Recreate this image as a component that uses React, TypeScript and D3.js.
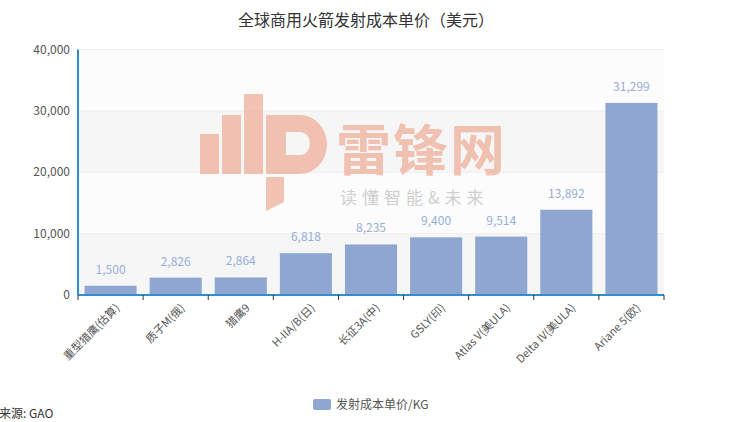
import React from "react";
import * as d3 from "d3";

const categories = [
  "重型猎鹰(估算)",
  "质子M(俄)",
  "猎鹰9",
  "H-IIA/B(日)",
  "长征3A(中)",
  "GSLY(印)",
  "Atlas V(美ULA)",
  "Delta IV(美ULA)",
  "Ariane 5(欧)",
];
const costPerKg = [1500, 2826, 2864, 6818, 8235, 9400, 9514, 13892, 31299];
const yTicks = [0, 10000, 20000, 30000, 40000];
const title = "全球商用火箭发射成本单价（美元）";
const seriesName = "发射成本单价/KG";
const source = "来源: GAO";

const W = 740;
const H = 422;
const plot = { left: 78, right: 664, top: 49.5, bottom: 295 };
const FONT = "'Microsoft YaHei', 'Noto Sans CJK SC', sans-serif";
const BAR = "#8fa6d0";
const LABEL = "#97aed7";
const AXIS = "#2f8fd0";

export default function App() {
  const x = d3
    .scaleBand<string>()
    .domain(categories)
    .range([plot.left, plot.right])
    .paddingInner(0.2)
    .paddingOuter(0.1);
  const xb = d3.scaleBand<string>().domain(categories).range([plot.left, plot.right]);
  const y = d3.scaleLinear().domain([0, 40000]).range([plot.bottom, plot.top]);
  const fmt = d3.format(",");

  const bands = yTicks.slice(0, -1).map((t, i) => ({
    y0: y(yTicks[i + 1]),
    y1: y(t),
    fill: i % 2 === 0 ? "#f6f6f7" : "#fcfcfc",
  }));

  return (
    <svg
      width={W}
      height={H}
      style={{ position: "absolute", left: 0, top: 0, background: "#fff" }}
      fontFamily={FONT}
    >
      <text x={366} y={26} textAnchor="middle" fontSize={16} fill="#333">
        {title}
      </text>

      {bands.map((b, i) => (
        <rect
          key={i}
          x={plot.left}
          y={b.y0}
          width={plot.right - plot.left}
          height={b.y1 - b.y0}
          fill={b.fill}
        />
      ))}
      {yTicks.map((t) => (
        <line
          key={t}
          x1={plot.left}
          x2={plot.right}
          y1={y(t)}
          y2={y(t)}
          stroke="#efefef"
          strokeWidth={1}
        />
      ))}

      {/* watermark */}
      <g opacity={0.7}>
        <g fill="#eeaa94">
          <rect x={200} y={134} width={19} height={40} />
          <rect x={222} y={115} width={19} height={59} />
          <rect x={244} y={94} width={19} height={80} />
          <path d="M266,115 H300 A27,29.5 0 0 1 300,174 H266 Z M286,132 V155 H300 A10,11.5 0 0 0 300,132 Z" fillRule="evenodd" />
          <path d="M266,177 H284 V202 L266,211 Z" />
        </g>
        <text x={336} y={170} fontSize={55} fontWeight="bold" fill="#eeaa94" letterSpacing={2}>
          雷锋网
        </text>
        <text x={340} y={204} fontSize={17} fill="#bdbdbd" letterSpacing={5}>
          读懂智能&amp;未来
        </text>
      </g>

      {costPerKg.map((v, i) => {
        const c = categories[i];
        return (
          <g key={c}>
            <rect
              x={x(c)}
              y={y(v)}
              width={x.bandwidth()}
              height={plot.bottom - y(v)}
              fill={BAR}
            />
            <text
              x={(x(c) as number) + x.bandwidth() / 2}
              y={y(v) - 12}
              textAnchor="middle"
              fontSize={12}
              fill={LABEL}
            >
              {fmt(v)}
            </text>
          </g>
        );
      })}

      {/* axes */}
      <line x1={plot.left} x2={plot.left} y1={plot.top} y2={plot.bottom} stroke={AXIS} strokeWidth={2} />
      <line x1={plot.left} x2={plot.right} y1={plot.bottom} y2={plot.bottom} stroke={AXIS} strokeWidth={2} />
      {categories.map((c) => (
        <line
          key={"t" + c}
          x1={xb(c)}
          x2={xb(c)}
          y1={plot.bottom}
          y2={plot.bottom + 5}
          stroke="#333"
        />
      ))}
      <line x1={plot.right} x2={plot.right} y1={plot.bottom} y2={plot.bottom + 5} stroke="#333" />

      {yTicks.map((t) => (
        <text
          key={"yl" + t}
          x={plot.left - 8}
          y={y(t)}
          dy="0.35em"
          textAnchor="end"
          fontSize={12}
          fill="#555"
        >
          {fmt(t)}
        </text>
      ))}

      {categories.map((c) => {
        const cx = (xb(c) as number) + xb.bandwidth() / 2 + 7;
        const cy = plot.bottom + 11;
        return (
          <text
            key={"xl" + c}
            x={cx}
            y={cy}
            dy="0.35em"
            textAnchor="end"
            fontSize={11}
            fill="#555"
            transform={`rotate(-45 ${cx} ${cy})`}
          >
            {c}
          </text>
        );
      })}

      {/* legend */}
      <rect x={313} y={399} width={18} height={11} rx={2} fill={BAR} />
      <text x={336} y={405} dy="0.35em" fontSize={12} fill="#555">
        {seriesName}
      </text>

      <text x={-1} y={414} dy="0.35em" fontSize={12} fill="#333">
        {source}
      </text>
    </svg>
  );
}
